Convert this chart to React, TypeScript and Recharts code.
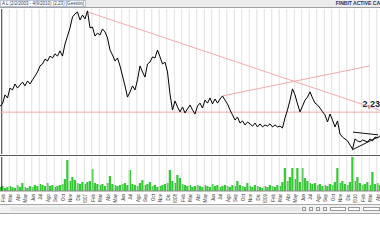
import React from 'react'
import {
  ComposedChart, Line, Bar, XAxis, YAxis, ReferenceLine,
} from 'recharts'

// closing price, one point every ~2.5px of the visible window (Feb 2006 - Apr 2010)
const price = [
  2.45, 2.53, 2.86, 2.75, 3.11, 3.04, 3.26, 3.11, 3.22, 3.33,
  3.19, 3.37, 3.26, 3.41, 3.55, 3.70, 3.92, 3.99, 4.17, 4.10,
  4.28, 4.21, 4.36, 4.28, 4.47, 4.28, 4.72, 5.01, 5.31, 5.71,
  5.82, 5.89, 5.60, 5.78, 5.64, 5.93, 5.31, 5.34, 5.01, 5.12,
  5.05, 5.27, 5.16, 4.94, 4.50, 4.32, 4.10, 4.21, 3.92, 3.55,
  3.19, 2.78, 2.97, 3.19, 3.04, 3.41, 3.92, 3.70, 3.51, 3.99,
  4.06, 4.25, 4.21, 4.50, 4.25, 3.99, 4.06, 3.70, 2.89, 2.31,
  2.64, 2.42, 2.24, 2.42, 2.20, 2.35, 2.49, 2.31, 2.16, 2.45,
  2.56, 2.38, 2.67, 2.56, 2.75, 2.53, 2.71, 2.56, 2.71, 2.82,
  2.67, 2.53, 2.31, 2.13, 1.94, 2.05, 1.83, 1.91, 1.76, 1.87,
  1.80, 1.72, 1.83, 1.69, 1.80, 1.69, 1.76, 1.72, 1.80, 1.69,
  1.76, 1.69, 1.72, 1.65, 2.02, 2.31, 2.67, 3.08, 2.86, 2.53,
  2.24, 2.45, 2.67, 2.78, 2.97, 2.75, 2.56, 2.49, 2.38, 2.24,
  2.13, 1.87, 2.16, 1.94, 1.69, 1.91, 1.43, 1.32, 1.25, 1.18,
  1.03, 0.88, 1.25, 1.18, 1.14, 1.21, 1.18, 1.14, 1.25, 1.18,
  1.32, 1.29, 1.36,
]

const volume = [
  4, 5, 3, 4, 5, 4, 3, 6, 4, 8,
  4, 3, 5, 4, 6, 5, 7, 6, 5, 8,
  5, 6, 4, 5, 6, 7, 12, 31, 10, 14,
  11, 8, 7, 9, 7, 9, 10, 22, 8, 7,
  6, 7, 5, 8, 15, 7, 6, 5, 6, 7,
  8, 6, 21, 7, 6, 5, 8, 11, 6, 7,
  9, 5, 6, 4, 5, 6, 7, 8, 21, 10,
  8, 16, 13, 7, 6, 5, 6, 4, 5, 6,
  5, 4, 6, 5, 4, 7, 5, 6, 4, 5,
  6, 5, 4, 6, 5, 10, 6, 5, 4, 8,
  5, 4, 6, 5, 4, 3, 5, 4, 6, 5,
  4, 6, 5, 9, 23, 10, 14, 23, 12, 23,
  9, 23, 13, 10, 8, 7, 8, 6, 7, 5,
  6, 5, 7, 6, 9, 23, 8, 10, 7, 6,
  9, 34, 10, 14, 8, 6, 7, 9, 6, 19,
  7, 8, 6,
]

const months = [
  'Feb', 'Mar', 'Abr', 'May', 'Jun', 'Jul', 'Ago', 'Sep', 'Oct', 'Nov', 'Dic',
  '2007', 'Feb', 'Mar', 'Abr', 'May', 'Jun', 'Jul', 'Ago', 'Sep', 'Oct', 'Nov', 'Dic',
  '2008', 'Feb', 'Mar', 'Abr', 'May', 'Jun', 'Jul', 'Ago', 'Sep', 'Oct', 'Nov', 'Dic',
  '2009', 'Feb', 'Mar', 'Abr', 'May', 'Jun', 'Jul', 'Ago', 'Sep', 'Oct', 'Nov', 'Dic',
  '2010', 'Feb', 'Mar', 'Abr',
]

const level = 2.23
const downTrend = [{ x: 35.2, y: 5.89 }, { x: 152, y: 2.3 }]
const upTrend = [{ x: 88.8, y: 2.82 }, { x: 148, y: 3.92 }]
const triangleTop = [{ x: 141.2, y: 1.5 }, { x: 151.2, y: 1.4 }]
const triangleBottom = [{ x: 140.8, y: 0.85 }, { x: 151.2, y: 1.32 }]

const rows = price.map((p, i) => ({ t: i, price: p, volume: volume[i] }))
const monthTicks = months.map((_, k) => 0.7 + 3 * k)

const pink = '#f2a9a9'
const grid = '#e0e0e0'

function MonthTick(props: any) {
  const { x, y, payload } = props
  const k = Math.round((payload.value - 0.7) / 3)
  const tx = x + 3
  const ty = y - 5
  return (
    <text x={tx} y={ty} transform={`rotate(-90 ${tx} ${ty})`} textAnchor="end"
      fontSize={4.5} fill="#333">
      {months[k]}
    </text>
  )
}

function LevelLabel(props: any) {
  const { viewBox } = props
  const x = viewBox.x + viewBox.width
  const y = viewBox.y - 5
  return (
    <text x={x} y={y} textAnchor="end" fontSize={9} fontWeight="bold" fill="#222">
      2,23
    </text>
  )
}

export default function App() {
  return (
    <div style={{ position: 'relative', width: 380, height: 240, background: '#fff',
      fontFamily: '"Liberation Sans", Arial, sans-serif', overflow: 'hidden' }}>
      <style>{'body{margin:0}'}</style>

      {/* header strip */}
      <div style={{ position: 'absolute', left: 0, top: 0, width: 380, height: 7,
        background: '#ececec', borderBottom: '1px solid #a0a0a0' }}>
        <div style={{ position: 'absolute', left: 0, top: 0, height: 5, padding: '0 1px',
          background: '#fff', border: '1px solid #b9c3d6', fontSize: 4.5, lineHeight: '5px',
          color: '#334', whiteSpace: 'nowrap' }}>
          A L (2/2/2003 - 4/9/2010) (2,23) [Gestión]
        </div>
        <div style={{ position: 'absolute', right: 0, top: 1, fontSize: 5, lineHeight: '5px',
          fontWeight: 'bold', color: '#23306a', whiteSpace: 'nowrap' }}>
          FINBIT ACTIVE CA
        </div>
      </div>

      {/* price panel */}
      <div style={{ position: 'absolute', left: 0, top: 8 }}>
        <ComposedChart width={380} height={148} data={rows}
          margin={{ top: 1, right: 0, bottom: 2, left: 0 }}>
          <XAxis dataKey="t" type="number" domain={[0, 152]} ticks={monthTicks}
            height={0} tick={false} axisLine={false} tickLine={false} />
          <YAxis hide type="number" domain={[0.7, 6.0]} allowDataOverflow />
          {monthTicks.map((m, k) => (
            <ReferenceLine key={m} x={m} stroke={k === 0 ? '#333' : grid} />
          ))}
          <ReferenceLine y={level} stroke={pink} label={<LevelLabel />} />
          <ReferenceLine segment={downTrend} stroke={pink} />
          <ReferenceLine segment={upTrend} stroke={pink} />
          <ReferenceLine segment={triangleTop} stroke="#111" />
          <ReferenceLine segment={triangleBottom} stroke="#111" />
          <Line dataKey="price" stroke="#000" strokeWidth={1} dot={false}
            isAnimationActive={false} />
        </ComposedChart>
      </div>

      {/* separator */}
      <div style={{ position: 'absolute', left: 0, top: 155, width: 380, height: 1,
        background: '#555' }} />

      {/* volume panel */}
      <div style={{ position: 'absolute', left: 0, top: 156 }}>
        <ComposedChart width={380} height={47} data={rows}
          margin={{ top: 1, right: 0, bottom: 0, left: 0 }}>
          <XAxis dataKey="t" type="number" domain={[0, 152]} ticks={monthTicks}
            interval={0} height={12} tick={<MonthTick />} tickLine={false}
            axisLine={{ stroke: '#888' }} />
          <YAxis hide type="number" domain={[0, 34]} allowDataOverflow />
          {monthTicks.map((m, k) => (
            <ReferenceLine key={m} x={m} stroke={k === 0 ? '#333' : grid} />
          ))}
          <Bar dataKey="volume" fill="#36c936" barSize={3} isAnimationActive={false} />
        </ComposedChart>
      </div>

      {/* scroll bar strip */}
      <div style={{ position: 'absolute', left: 0, top: 204, width: 380, height: 8,
        background: '#f1f1f1', borderTop: '1px solid #a9a9a9', borderBottom: '1px solid #a9a9a9' }}>
        <div style={{ position: 'absolute', left: 10, top: 2, width: 290, height: 4,
          background: '#e6e6e6' }} />
        {[302, 309, 316, 323].map((x) => (
          <div key={x} style={{ position: 'absolute', left: x, top: 2, width: 4, height: 4,
            border: '1px solid #999', boxSizing: 'border-box' }} />
        ))}
        <div style={{ position: 'absolute', left: 330, top: 2, width: 16, height: 4,
          border: '1px solid #999', background: '#fff', boxSizing: 'border-box' }} />
        <div style={{ position: 'absolute', left: 348, top: 2, width: 12, height: 4,
          border: '1px solid #999', background: '#fff', boxSizing: 'border-box' }} />
        <div style={{ position: 'absolute', left: 363, top: 2, width: 17, height: 4,
          border: '1px solid #999', background: '#fff', boxSizing: 'border-box' }} />
      </div>
    </div>
  )
}
